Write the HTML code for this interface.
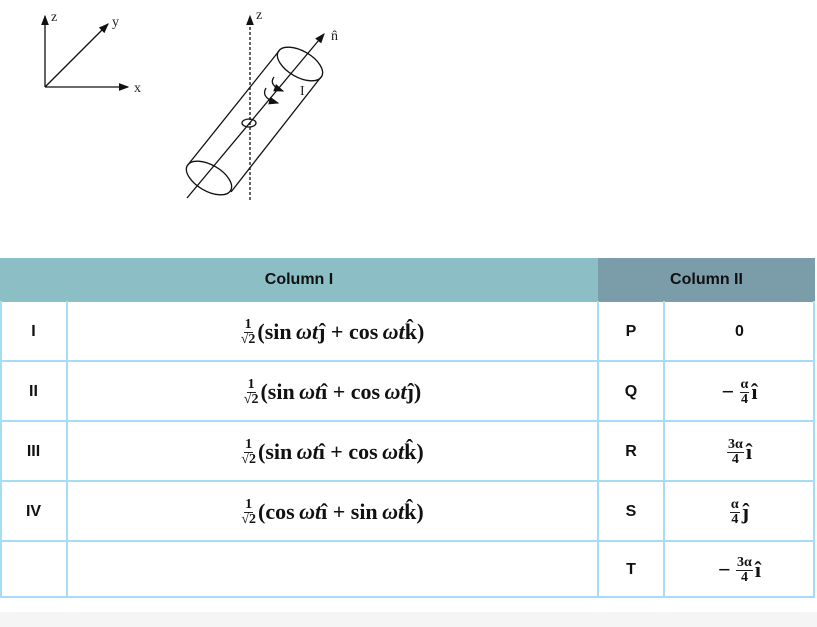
<!DOCTYPE html>
<html><head><meta charset="utf-8"><style>
body{margin:0;width:817px;height:627px;background:#fff;position:relative;overflow:hidden;font-family:"Liberation Sans",sans-serif}
.g{position:absolute;left:0;top:612px;width:817px;height:15px;background:#f5f5f5}
.c{position:absolute;display:flex;align-items:center;justify-content:center;box-sizing:border-box;font-weight:bold;font-size:16px;color:#111}
.hl{position:absolute;background:#a8dcf5}
.m{font-family:"Liberation Serif",serif;font-weight:bold;font-size:22px;display:flex;align-items:center;white-space:nowrap}
.f{display:inline-flex;flex-direction:column;align-items:center;font-size:14px;line-height:13px;margin-right:2px}
.f span:first-child{border-bottom:1px solid #222;padding:0 1px 1px}
i{font-style:italic}
</style></head><body>
<svg width="340" height="210" style="position:absolute;left:0;top:0" font-family="Liberation Serif" font-size="14">
<defs><marker id="a" markerWidth="8" markerHeight="8" refX="7" refY="4" orient="auto"><path d="M0,1 L8,4 L0,7z" fill="#111"/></marker></defs>
<g stroke="#111" stroke-width="1.3" fill="none">
<line x1="45" y1="87" x2="45" y2="16" marker-end="url(#a)"/>
<line x1="45" y1="87" x2="128" y2="87" marker-end="url(#a)"/>
<line x1="45" y1="87" x2="108" y2="24" marker-end="url(#a)"/>
<line x1="250" y1="200" x2="250" y2="16" stroke-dasharray="3,2" marker-end="url(#a)"/>
<line x1="187" y1="198" x2="324" y2="34" marker-end="url(#a)"/>
<ellipse cx="209" cy="178" rx="25" ry="13" transform="rotate(30 209 178)"/>
<ellipse cx="300" cy="64" rx="25" ry="13" transform="rotate(30 300 64)"/>
<line x1="187" y1="166" x2="279" y2="51"/>
<line x1="231" y1="192" x2="321" y2="77"/>
<ellipse cx="249" cy="123" rx="7" ry="4"/>
<path d="M274,77 q-6,8 9,14" marker-end="url(#a)"/>
<path d="M266,88 q-6,10 12,15" marker-end="url(#a)"/>
</g>
<g fill="#222"><text x="51" y="21">z</text><text x="112" y="26">y</text><text x="134" y="92">x</text><text x="256" y="19">z</text><text x="331" y="40">n̂</text><text x="300" y="95">I</text></g>
</svg>
<div class="g"></div>
<div class="c" style="left:0;top:258px;width:598px;height:44px;background:#8bbec5">Column I</div>
<div class="c" style="left:598px;top:258px;width:217px;height:44px;background:#7b9ca9">Column II</div>
<div class="hl" style="left:0;top:301px;width:2px;height:297px"></div>
<div class="hl" style="left:66px;top:301px;width:2px;height:297px"></div>
<div class="hl" style="left:597px;top:301px;width:2px;height:297px"></div>
<div class="hl" style="left:663px;top:301px;width:2px;height:297px"></div>
<div class="hl" style="left:813px;top:301px;width:2px;height:297px"></div>
<div class="hl" style="left:0;top:360px;width:815px;height:2px"></div>
<div class="hl" style="left:0;top:420px;width:815px;height:2px"></div>
<div class="hl" style="left:0;top:480px;width:815px;height:2px"></div>
<div class="hl" style="left:0;top:540px;width:815px;height:2px"></div>
<div class="hl" style="left:0;top:596px;width:815px;height:2px"></div>

<div class="c" style="left:0;top:302px;width:67px;height:59px">I</div>
<div class="c" style="left:0;top:362px;width:67px;height:59px">II</div>
<div class="c" style="left:0;top:422px;width:67px;height:59px">III</div>
<div class="c" style="left:0;top:482px;width:67px;height:59px">IV</div>
<div class="c" style="left:598px;top:302px;width:66px;height:59px">P</div>
<div class="c" style="left:598px;top:362px;width:66px;height:59px">Q</div>
<div class="c" style="left:598px;top:422px;width:66px;height:59px">R</div>
<div class="c" style="left:598px;top:482px;width:66px;height:59px">S</div>
<div class="c" style="left:598px;top:542px;width:66px;height:55px">T</div>

<div class="c m" style="left:67px;top:302px;width:531px;height:59px"><span class="f"><span>1</span><span>√2</span></span>(sin&thinsp;<i>ωt</i>ĵ + cos&thinsp;<i>ωt</i>k̂)</div>
<div class="c m" style="left:67px;top:362px;width:531px;height:59px"><span class="f"><span>1</span><span>√2</span></span>(sin&thinsp;<i>ωt</i>î + cos&thinsp;<i>ωt</i>ĵ)</div>
<div class="c m" style="left:67px;top:422px;width:531px;height:59px"><span class="f"><span>1</span><span>√2</span></span>(sin&thinsp;<i>ωt</i>î + cos&thinsp;<i>ωt</i>k̂)</div>
<div class="c m" style="left:67px;top:482px;width:531px;height:59px"><span class="f"><span>1</span><span>√2</span></span>(cos&thinsp;<i>ωt</i>î + sin&thinsp;<i>ωt</i>k̂)</div>

<div class="c" style="left:664px;top:302px;width:151px;height:59px">0</div>
<div class="c m" style="left:664px;top:362px;width:151px;height:59px">−&nbsp;<span class="f"><span>α</span><span>4</span></span>î</div>
<div class="c m" style="left:664px;top:422px;width:151px;height:59px"><span class="f"><span>3α</span><span>4</span></span>î</div>
<div class="c m" style="left:664px;top:482px;width:151px;height:59px"><span class="f"><span>α</span><span>4</span></span>ĵ</div>
<div class="c m" style="left:664px;top:542px;width:151px;height:55px">−&nbsp;<span class="f"><span>3α</span><span>4</span></span>î</div>
</body></html>
